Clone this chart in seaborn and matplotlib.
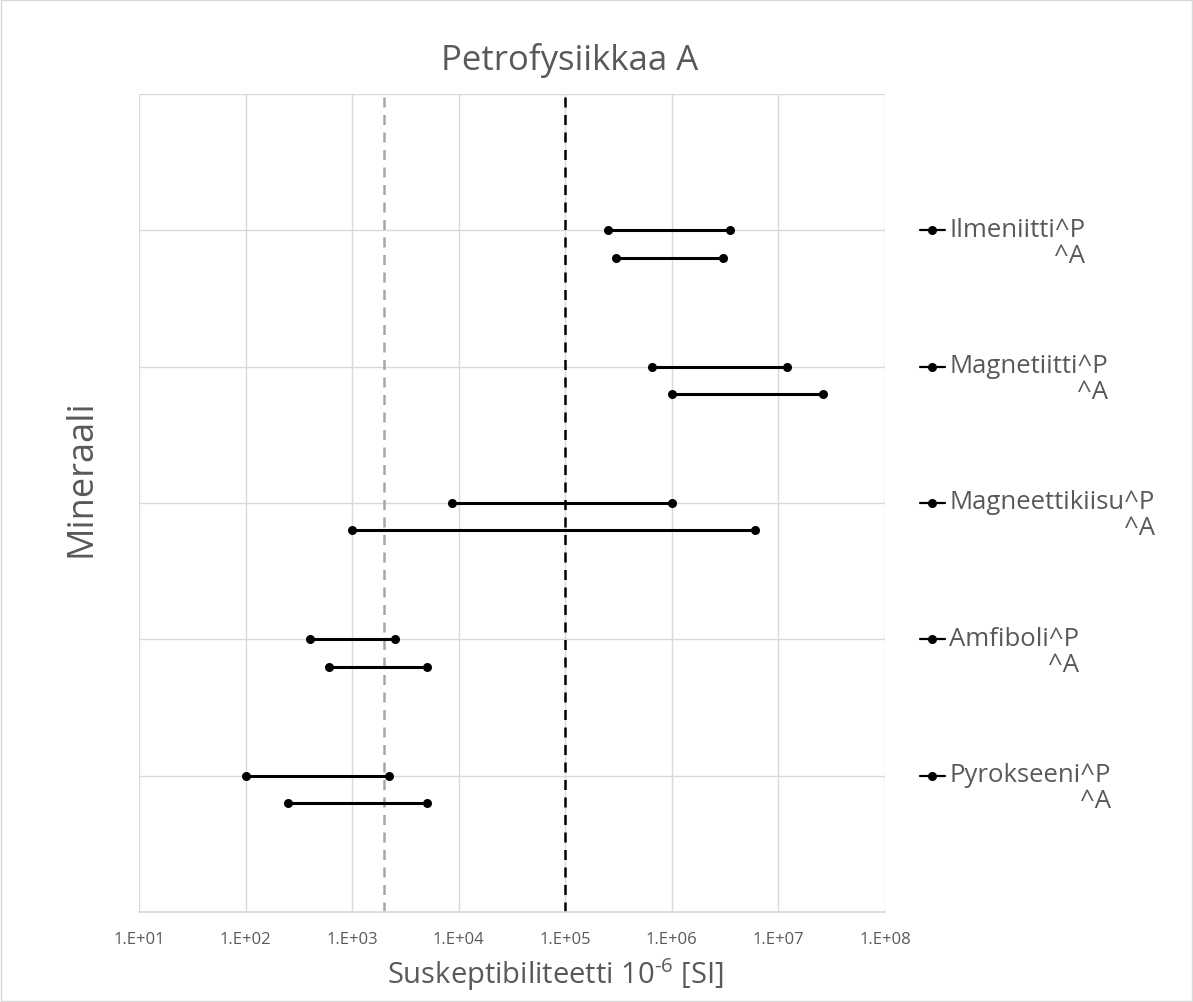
import numpy as np
import pandas as pd
import matplotlib
matplotlib.use("Agg")
import matplotlib.pyplot as plt
import seaborn as sns
from matplotlib.patches import Rectangle

minerals = ["Ilmeniitti", "Magnetiitti", "Magneettikiisu", "Amfiboli", "Pyrokseeni"]
p_low = [2.5e5, 6.5e5, 8.7e3, 400, 100]
p_high = [3.5e6, 1.2e7, 1.0e6, 2.5e3, 2.2e3]
a_low = [3.0e5, 1.0e6, 1.0e3, 600, 250]
a_high = [3.0e6, 2.6e7, 6.0e6, 5.0e3, 5.0e3]
ref_gray = 2.0e3
ref_black = 1.0e5
xtick_vals = [1e1, 1e2, 1e3, 1e4, 1e5, 1e6, 1e7, 1e8]
xtick_labels = ["1.E+01", "1.E+02", "1.E+03", "1.E+04", "1.E+05", "1.E+06", "1.E+07", "1.E+08"]

sns.set_theme(style="white")
plt.rcParams['font.family'] = ['Open Sans', 'DejaVu Sans']
plt.rcParams['mathtext.fontset'] = 'custom'
plt.rcParams['mathtext.rm'] = 'Open Sans'
txt = "#595959"

n = len(minerals)
rows = []
for i, m in enumerate(minerals):
    yp = n - i
    rows.append(dict(seg=f"{m}P", value=p_low[i], y=yp))
    rows.append(dict(seg=f"{m}P", value=p_high[i], y=yp))
    rows.append(dict(seg=f"{m}A", value=a_low[i], y=yp - 0.2))
    rows.append(dict(seg=f"{m}A", value=a_high[i], y=yp - 0.2))
df = pd.DataFrame(rows)

fig = plt.figure(figsize=(11.93, 10.03), dpi=100)
ax = fig.add_axes([139/1193, 1 - 913/1003, (885-139)/1193, (913-95)/1003])

ax.set_xscale("log")
ax.set_xlim(1e1, 1e8)
ax.set_ylim(0, 6)
ax.set_xticks(xtick_vals)
ax.set_xticklabels(xtick_labels)
ax.minorticks_off()
ax.set_yticks(range(1, 6))
ax.set_yticklabels([])
ax.grid(True, color="#d9d9d9", linewidth=1)
ax.set_axisbelow(True)
for s in ["left", "right", "top"]:
    ax.spines[s].set_visible(False)
ax.spines["bottom"].set_color("#d9d9d9")
ax.tick_params(axis="x", length=0, labelsize=12, labelcolor=txt, pad=14)
ax.tick_params(axis="y", length=0)
ax.axhline(6, color="#d9d9d9", lw=1)

ax.axvline(ref_gray, color="#a6a6a6", ls=(0, (4, 3)), lw=1.8, zorder=1)
ax.axvline(ref_black, color="black", ls=(0, (4, 3)), lw=1.8, zorder=1)

sns.lineplot(data=df, x="value", y="y", units="seg", estimator=None, sort=False,
             color="black", marker="o", markersize=6.5, markeredgewidth=0,
             linewidth=2.2, ax=ax, legend=False, zorder=3)

ax.set_xlabel("")
ax.set_ylabel("")
fig.text(555/1193, 1 - 975/1003, "Suskeptibiliteetti 10$^{\\text{-6}}$ [SI]",
         fontsize=21, color=txt, ha="center", va="center")
fig.text(82/1193, 1 - 478/1003, "Mineraali", fontsize=26, color=txt,
         ha="center", va="center", rotation=90)
fig.text(570/1193, 1 - 60/1003, "Petrofysiikkaa A", fontsize=25, color=txt,
         ha="center", va="center")

trans = ax.get_yaxis_transform()
for i, m in enumerate(minerals):
    yp = n - i
    ax.plot([1.047, 1.08], [yp, yp], transform=trans, color="black", lw=1.6, clip_on=False)
    ax.plot([1.0635], [yp], transform=trans, color="black", marker="o", ms=6.5, mew=0, clip_on=False)
    ax.text(1.086, yp + 0.1, f"{m}^P\n^A", transform=trans, ha="left", va="top",
            multialignment="right", fontsize=18.5, color=txt, linespacing=1.05,
            clip_on=False)

fig.patches.append(Rectangle((0.001, 0.001), 0.998, 0.998, transform=fig.transFigure,
                             fill=False, edgecolor="#d9d9d9", lw=1))
fig.savefig("out.png", dpi=100)
